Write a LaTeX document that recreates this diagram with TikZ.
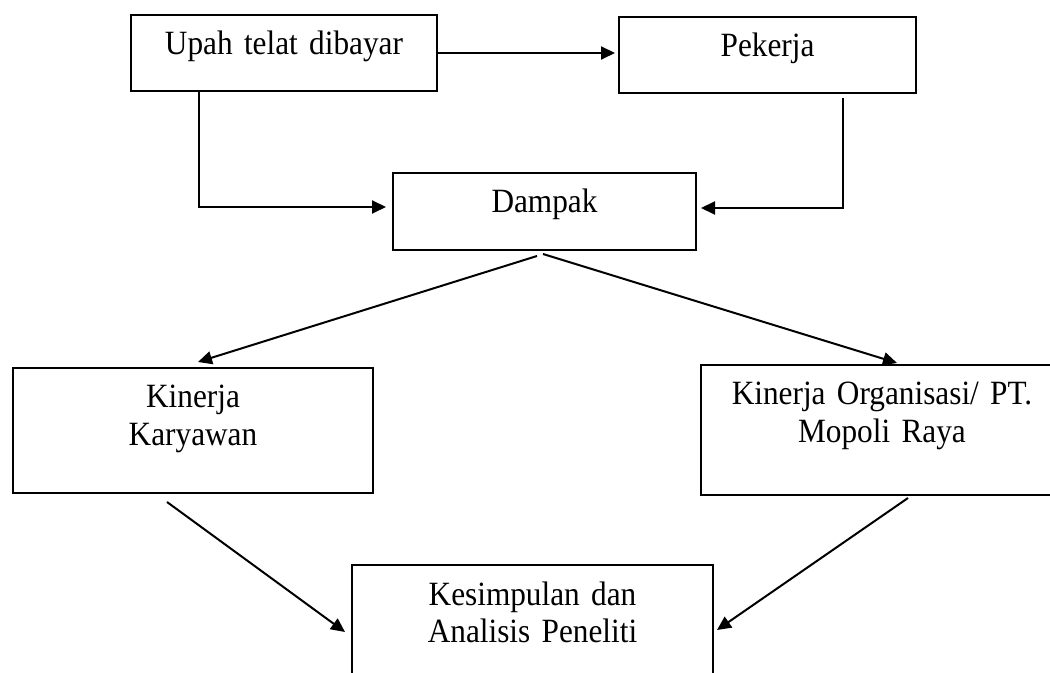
\documentclass[tikz,border=0pt]{standalone}
\usepackage{fontspec}
\setmainfont{Liberation Serif}[FakeStretch=0.92]
\usetikzlibrary{arrows.meta,positioning}

\begin{document}
\begin{tikzpicture}[
        >={Triangle[length=7pt,width=6.5pt]},
        every path/.style={line width=1pt},
        box/.style={draw, line width=1pt, inner sep=0pt, align=center, text height=20pt,
            font=\fontsize{17pt}{18.9pt}\selectfont}
    ]

    \useasboundingbox (0,0) rectangle (525pt,-336.5pt);

    % Nodes
    \node (upah)[box, anchor=north west, text width=153pt, text depth=18pt] at (65pt,-7pt)
        {Upah telat dibayar};

    \node (pekerja)[box, right=90pt of upah, yshift=-1pt, text width=148.5pt, text depth=18pt]
        {Pekerja};

    \node (dampak)[box, below right=40pt and -23pt of upah, text width=151.5pt, text depth=18.5pt]
        {Dampak};

    \node (karyawan)[box, below left=58pt and 9pt of dampak, text width=180pt, text depth=42.5pt]
        {Kinerja \\ Karyawan};

    \node (organisasi)[box, below right=56.5pt and 1.5pt of dampak, text width=181pt, text depth=45pt]
        {Kinerja Organisasi/ PT. \\ Mopoli Raya};

    \node (kesimpulan)[box, below right=35pt and -11.5pt of karyawan, text width=180.5pt, text depth=45pt]
        {Kesimpulan dan \\ Analisis Peneliti};

    % Edges
    \draw[->, shorten >=1.5pt] (upah.east) -- (upah.east -| pekerja.west);
    \draw[->, shorten >=3pt] ([xshift=-42.5pt]upah.south) |- ([yshift=2.25pt]dampak.west);
    \draw[->] ([xshift=37.75pt,yshift=-2pt]pekerja.south) |- ([yshift=1.75pt,xshift=2pt]dampak.east);

    \draw[->] ([xshift=-3.75pt,yshift=-2.5pt]dampak.south) -- ([xshift=2.5pt,yshift=2.5pt]karyawan.north);
    \draw[->] ([xshift=-0.75pt,yshift=-1.5pt]dampak.south) -- ([xshift=7.5pt,yshift=0.5pt]organisasi.north);

    \draw[->] ([xshift=-13pt,yshift=-4pt]karyawan.south) -- ([xshift=-3pt,yshift=-1pt]kesimpulan.west);
    \draw[->] ([xshift=13pt,yshift=-1pt]organisasi.south) -- ([xshift=1.5pt]kesimpulan.east);

\end{tikzpicture}
\end{document}
